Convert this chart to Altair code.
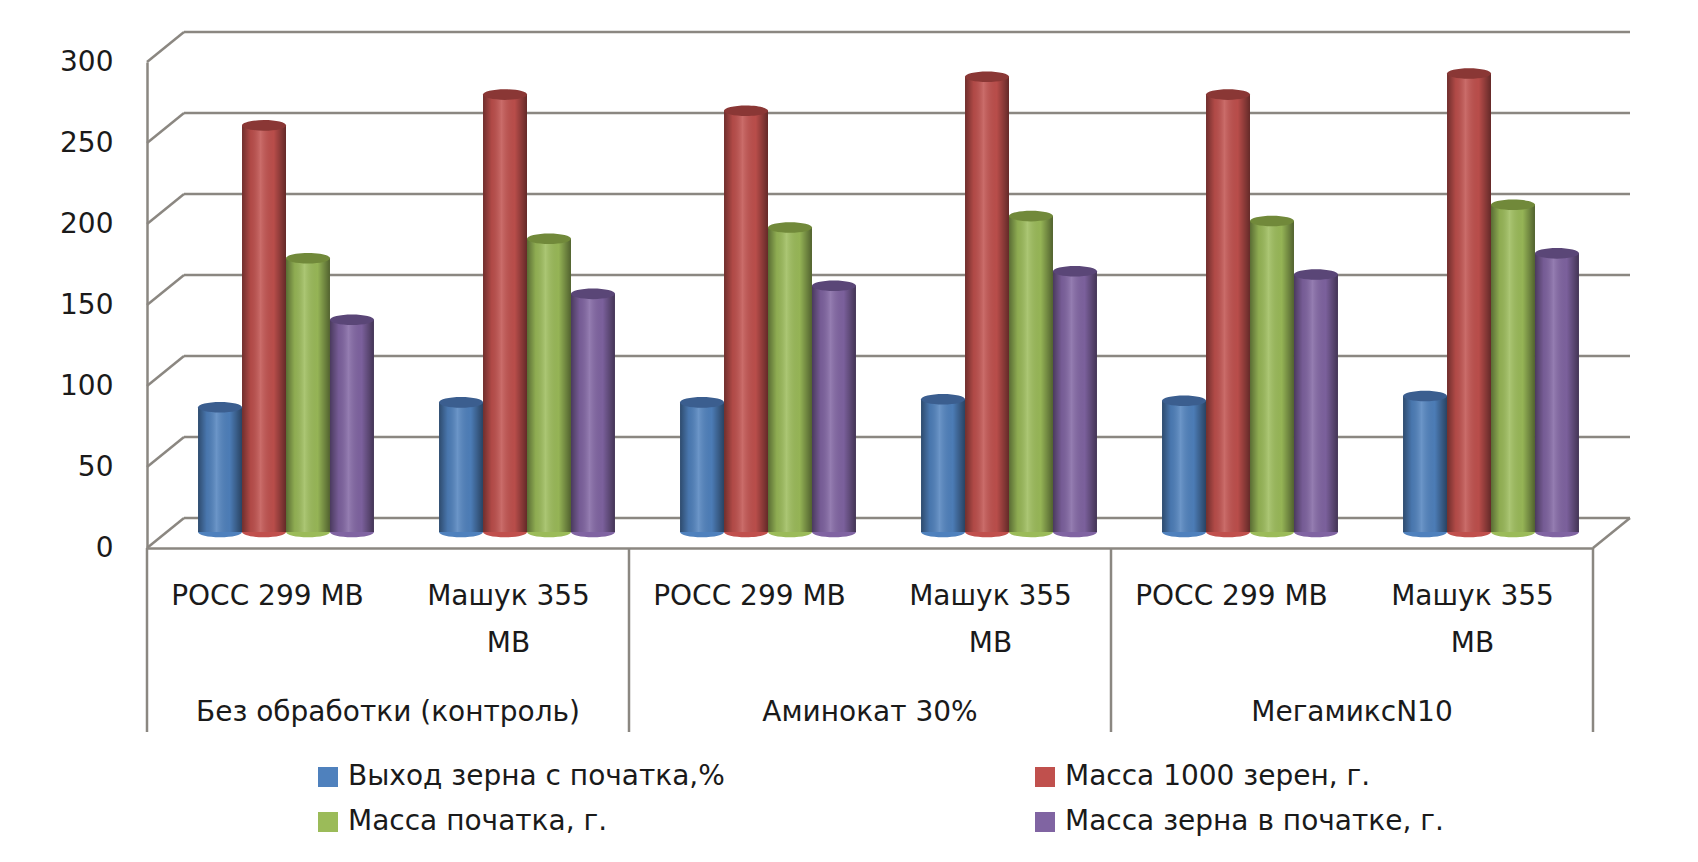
import altair as alt
import pandas as pd

# ---------------- data ----------------
groups = ["Без обработки (контроль)", "Аминокат 30%", "МегамиксN10"]
varieties = ["РОСС 299 МВ", "Машук 355 МВ"]
variety_labels = ["РОСС 299 МВ", "Машук 355\nМВ"]
series_names = [
    "Выход зерна с початка,%",
    "Масса 1000 зерен, г.",
    "Масса початка, г.",
    "Масса зерна в початке, г.",
]
# order: (контроль: РОСС, Машук), (Аминокат: РОСС, Машук), (Мегамикс: РОСС, Машук)
yield_pct = [77, 80, 80, 82, 81, 84]
mass_1000 = [251, 270, 260, 281, 270, 283]
mass_cob = [169, 181, 188, 195, 192, 202]
mass_grain = [131, 147, 152, 161, 159, 172]
y_ticks = [0, 50, 100, 150, 200, 250, 300]

colors = ["#4F81BD", "#C0504D", "#9BBB59", "#8064A2"]
top_colors = ["#3B5E8F", "#8A3735", "#71893A", "#5A4677"]

# ---------------- layout constants ----------------
W, H = 1446, 486
STEP = W / 6
DX, DY = 37, -30      # depth of the pseudo-3D box
BX, BY = 18.5, -16    # bars stand half-way into the box
GRID = "#8b8781"
TXT = "#1a1a1a"
FONT = "DejaVu Sans"
FS = 28
ELL = "M -1 0 A 1 0.24 0 1 1 1 0 A 1 0.24 0 1 1 -1 0 Z"

rows = []
for name, vals in zip(series_names, [yield_pct, mass_1000, mass_cob, mass_grain]):
    for k, v in enumerate(vals):
        rows.append({"slot": k, "series": name, "value": v,
                     "group": groups[k // 2], "variety": varieties[k % 2]})
bars_df = pd.DataFrame(rows)
slots_df = pd.DataFrame({"slot": list(range(6)),
                         "label": [variety_labels[k % 2] for k in range(6)]})
groups_df = pd.DataFrame({"slot": [0, 2, 4], "group": groups})
end_df = pd.DataFrame({"slot": [5]})
ticks_df = pd.DataFrame({"v": y_ticks})

x_axis = alt.Axis(labels=False, ticks=False, title=None, grid=False,
                  domainColor=GRID, domainWidth=2.5)
y_axis = alt.Axis(values=y_ticks, title=None, ticks=False, grid=False,
                  labelPadding=34, domainColor=GRID, domainWidth=2.5,
                  labelFontSize=FS, labelFont=FONT, labelColor=TXT)
x_scale = alt.Scale(paddingInner=0, paddingOuter=0)
y_scale = alt.Scale(domain=[0, 300], nice=False)


def X(**kw):
    return alt.X("slot:O", scale=x_scale, axis=x_axis, **kw)


# bars sit half-way into the box, so the offset band is shifted by BX
x_off = alt.XOffset("series:N", sort=series_names,
                    scale=alt.Scale(paddingOuter=0.74, paddingInner=0,
                                    range=[BX, STEP + BX]))

legend = alt.Legend(title=None, orient="none", legendX=167, legendY=701,
                    direction="horizontal",
                    columns=2, columnPadding=306, rowPadding=17,
                    symbolType="square", symbolSize=400, symbolStrokeWidth=0,
                    labelFontSize=FS, labelFont=FONT, labelColor=TXT,
                    labelOffset=6, padding=0, labelLimit=0)
color_enc = alt.Color("series:N", sort=series_names,
                      scale=alt.Scale(domain=series_names, range=colors),
                      legend=legend)

# back-wall gridlines
grid_back = alt.Chart(ticks_df).mark_rule(color=GRID, strokeWidth=2.5, yOffset=DY).encode(
    x=alt.value(DX), x2=alt.value(W + DX),
    y=alt.Y("v:Q", scale=y_scale, axis=y_axis))
# left-wall diagonals
grid_diag = alt.Chart(ticks_df).mark_rule(color=GRID, strokeWidth=2.5, y2Offset=DY).encode(
    x=alt.value(0), x2=alt.value(DX),
    y=alt.Y("v:Q", scale=y_scale, axis=y_axis), y2="v:Q")
# right floor diagonal
floor_diag = alt.Chart(ticks_df).transform_filter("datum.v == 0").mark_rule(
    color=GRID, strokeWidth=2.5, y2Offset=DY).encode(
    x=alt.value(W), x2=alt.value(W + DX),
    y=alt.Y("v:Q", scale=y_scale, axis=y_axis), y2="v:Q")

# category separators
seps = alt.Chart(groups_df).mark_rule(color=GRID, strokeWidth=2.5).encode(
    x=X(bandPosition=0), y=alt.value(H), y2=alt.value(H + 184))
sep_end = alt.Chart(end_df).mark_rule(color=GRID, strokeWidth=2.5).encode(
    x=X(bandPosition=1), y=alt.value(H), y2=alt.value(H + 184))

var_text = alt.Chart(slots_df).mark_text(
    baseline="top", lineBreak="\n", lineHeight=47, fontSize=FS, font=FONT, color=TXT
).encode(x=X(), y=alt.value(H + 35), text="label:N")
grp_text = alt.Chart(groups_df).mark_text(
    baseline="middle", fontSize=FS, font=FONT, color=TXT
).encode(x=X(bandPosition=1), y=alt.value(H + 165), text="group:N")

base = alt.Chart(bars_df)
bottoms = base.mark_point(shape=ELL, size=1936, filled=True, opacity=1, strokeWidth=0,
                          yOffset=BY).encode(
    x=X(), xOffset=x_off, y=alt.datum(0, scale=y_scale, axis=y_axis), color=color_enc)
bars = base.mark_bar(yOffset=BY, y2Offset=BY).encode(
    x=X(), xOffset=x_off, y=alt.Y("value:Q", scale=y_scale, axis=y_axis), color=color_enc)
shade = base.mark_bar(
    yOffset=BY, y2Offset=BY,
    fill=alt.Gradient(gradient="linear", x1=0, x2=1, y1=0, y2=0, stops=[
        alt.GradientStop(offset=0, color="rgba(0,0,0,0.42)"),
        alt.GradientStop(offset=0.2, color="rgba(0,0,0,0.08)"),
        alt.GradientStop(offset=0.42, color="rgba(255,255,255,0.16)"),
        alt.GradientStop(offset=0.72, color="rgba(0,0,0,0.04)"),
        alt.GradientStop(offset=1, color="rgba(0,0,0,0.48)"),
    ])).encode(x=X(), xOffset=x_off, y=alt.Y("value:Q", scale=y_scale, axis=y_axis))
tops = base.mark_point(shape=ELL, size=1936, filled=True, opacity=1, strokeWidth=0,
                       yOffset=BY).encode(
    x=X(), xOffset=x_off, y=alt.Y("value:Q", scale=y_scale, axis=y_axis),
    fill=alt.Fill("series:N", sort=series_names,
                  scale=alt.Scale(domain=series_names, range=top_colors), legend=None))

chart = alt.layer(
    grid_back, grid_diag, floor_diag, seps, sep_end, var_text, grp_text,
    bottoms, bars, shade, tops
).properties(
    width=W, height=H,
    autosize=alt.AutoSizeParams(type="none"),
    padding={"left": 139, "top": 54, "right": 97, "bottom": 306},
    background="white",
).configure_view(stroke=None).configure_axis(labelFont=FONT)

chart.save("out.html", embed_options={"renderer": "svg", "actions": False})
